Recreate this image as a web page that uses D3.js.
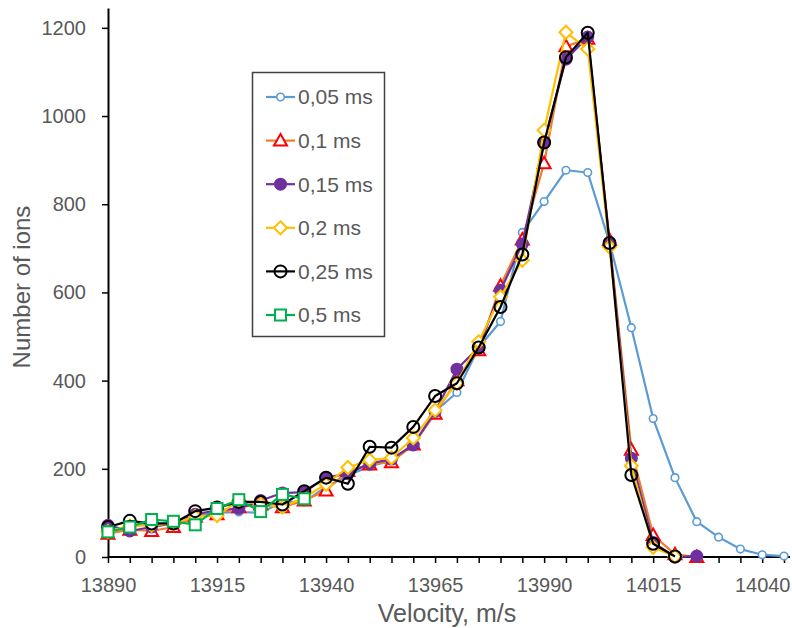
<!DOCTYPE html>
<html>
<head>
<meta charset="utf-8">
<script src="https://cdn.jsdelivr.net/npm/d3@7/dist/d3.min.js"></script>
<style>
  body { margin: 0; background: #fff; }
  svg { display: block; font-family: "Liberation Sans", Arial, sans-serif; }
</style>
</head>
<body>
<div id="chart"></div>
<script>
// Ion velocity distributions for different delays

// Categories (velocity, m/s)
const velocities = [13890, 13895, 13900, 13905, 13910, 13915, 13920, 13925, 13930, 13935,
  13940, 13945, 13950, 13955, 13960, 13965, 13970, 13975, 13980, 13985,
  13990, 13995, 14000, 14005, 14010, 14015, 14020, 14025, 14030, 14035,
  14040, 14045];

// Tick labels
const xTickLabels = [13890, 13915, 13940, 13965, 13990, 14015, 14040];
const yTickValues = [0, 200, 400, 600, 800, 1000, 1200];

// Series values (number of ions), index-aligned with velocities
const ions005 = [57, 70, 75, 78, 95, 100, 102, 100, 125, 125, 159, 185, 205, 220, 255, 330,
  373, 475, 534, 736, 806, 877, 872, 713, 520, 314, 180, 80, 45, 18, 5, 2];
const ions01 = [53, 62, 59, 68, 91, 97, 113, 119, 113, 128, 151, 195, 210, 215, 255, 325,
  401, 469, 615, 720, 893, 1158, 1175, 719, 243, 50, 6, 0];
const ions015 = [72, 59, 68, 76, 97, 106, 110, 128, 145, 147, 180, 189, 212, 222, 254, 330,
  426, 475, 605, 710, 940, 1129, 1179, 712, 224, 33, 0, 2];
const ions02 = [58, 70, 72, 76, 92, 94, 128, 120, 113, 135, 165, 203, 220, 225, 270, 333,
  394, 488, 590, 673, 968, 1190, 1152, 703, 207, 22, 1];
const ions025 = [68, 82, 76, 76, 104, 112, 125, 125, 119, 149, 180, 166, 250, 248, 295, 365,
  394, 475, 567, 686, 940, 1133, 1189, 712, 186, 30, 1];
const ions05 = [57, 68, 85, 81, 73, 110, 130, 103, 142, 132];

const seriesNames = ["0,05 ms", "0,1 ms", "0,15 ms", "0,2 ms", "0,25 ms", "0,5 ms"];

// Styles per series
const series = [
  { name: seriesNames[0], values: ions005, line: "#5B9BD5", stroke: "#5B9BD5", fill: "#fff", shape: "circleSmall" },
  { name: seriesNames[1], values: ions01, line: "#ED7D31", stroke: "#FF0000", fill: "#fff", shape: "triangle" },
  { name: seriesNames[2], values: ions015, line: "#7030A0", stroke: "#7030A0", fill: "#7030A0", shape: "circle" },
  { name: seriesNames[3], values: ions02, line: "#FFC000", stroke: "#FFC000", fill: "#fff", shape: "diamond" },
  { name: seriesNames[4], values: ions025, line: "#000000", stroke: "#000000", fill: "none", shape: "circleBig" },
  { name: seriesNames[5], values: ions05, line: "#00B050", stroke: "#00B050", fill: "#fff", shape: "square" },
];

const W = 792, H = 628;
const svg = d3.select("#chart").append("svg").attr("width", W).attr("height", H);

const x = d3.scaleLinear().domain([13890, 14045]).range([108, 784]);
const y = d3.scaleLinear().domain([0, 1245]).range([557, 8]);

const textColor = "#595959";

// X axis
const xAxis = svg.append("g")
  .attr("transform", "translate(0,557)")
  .call(d3.axisBottom(x)
    .tickValues(velocities)
    .tickSize(6)
    .tickSizeOuter(0)
    .tickPadding(15)
    .tickFormat(v => xTickLabels.includes(v) ? String(v) : ""));
xAxis.select(".domain").attr("d", "M108,0H790");

// Y axis
const yAxis = svg.append("g")
  .attr("transform", "translate(108,0)")
  .call(d3.axisLeft(y)
    .tickValues(yTickValues)
    .tickSize(6)
    .tickSizeOuter(0)
    .tickPadding(16)
    .tickFormat(d3.format("d")));

[xAxis, yAxis].forEach(a => {
  a.select(".domain").attr("stroke", "#000").attr("stroke-width", 2);
  a.selectAll(".tick line").attr("stroke", "#000").attr("stroke-width", 1.5);
  a.selectAll(".tick text")
    .attr("fill", textColor)
    .style("font-size", "20px")
    .style("font-family", "'Liberation Sans', Arial, sans-serif");
});

// Axis titles
svg.append("text")
  .attr("x", 447)
  .attr("y", 622)
  .attr("text-anchor", "middle")
  .attr("fill", textColor)
  .style("font-size", "25px")
  .text("Velocity, m/s");

svg.append("text")
  .attr("transform", "translate(30,287) rotate(-90)")
  .attr("text-anchor", "middle")
  .attr("fill", textColor)
  .style("font-size", "24px")
  .text("Number of ions");

// Marker drawing
function drawMarker(sel, s) {
  if (s.shape === "circleSmall" || s.shape === "circle" || s.shape === "circleBig") {
    const r = s.shape === "circleSmall" ? 3.8 : s.shape === "circle" ? 5.5 : 6;
    sel.append("circle").attr("r", r)
      .attr("fill", s.fill).attr("stroke", s.stroke)
      .attr("stroke-width", s.shape === "circleSmall" ? 1.6 : 2);
  } else if (s.shape === "triangle") {
    sel.append("path").attr("d", "M0,-6.5L6.5,5L-6.5,5Z")
      .attr("fill", s.fill).attr("stroke", s.stroke).attr("stroke-width", 2);
  } else if (s.shape === "diamond") {
    sel.append("path").attr("d", "M0,-6.5L6.5,0L0,6.5L-6.5,0Z")
      .attr("fill", s.fill).attr("stroke", s.stroke).attr("stroke-width", 2);
  } else if (s.shape === "square") {
    sel.append("rect").attr("x", -5.5).attr("y", -5.5).attr("width", 11).attr("height", 11)
      .attr("fill", s.fill).attr("stroke", s.stroke).attr("stroke-width", 2);
  }
}

// Series
const line = d3.line()
  .x(d => x(d.v))
  .y(d => y(d.n));

series.forEach(s => {
  const pts = s.values.map((n, i) => ({ v: velocities[i], n: n }));
  const g = svg.append("g");
  g.append("path")
    .datum(pts)
    .attr("fill", "none")
    .attr("stroke", s.line)
    .attr("stroke-width", 2.2)
    .attr("stroke-linejoin", "round")
    .attr("d", line);
  g.selectAll(".pt")
    .data(pts)
    .join("g")
    .attr("class", "pt")
    .attr("transform", d => `translate(${x(d.v)},${y(d.n)})`)
    .each(function () { drawMarker(d3.select(this), s); });
});

// Legend
const legend = svg.append("g");
legend.append("rect")
  .attr("x", 252.5).attr("y", 72.5)
  .attr("width", 132).attr("height", 264)
  .attr("fill", "#fff")
  .attr("stroke", "#404040")
  .attr("stroke-width", 1.5);

series.forEach((s, i) => {
  const row = legend.append("g").attr("transform", `translate(0,${97 + i * 43.6})`);
  row.append("line")
    .attr("x1", 266).attr("x2", 295)
    .attr("stroke", s.line).attr("stroke-width", 2.2);
  drawMarker(row.append("g").attr("transform", "translate(280.5,0)"), s);
  row.append("text")
    .attr("x", 298)
    .attr("dy", "0.35em")
    .attr("fill", textColor)
    .style("font-size", "21px")
    .text(s.name);
});
</script>
</body>
</html>
